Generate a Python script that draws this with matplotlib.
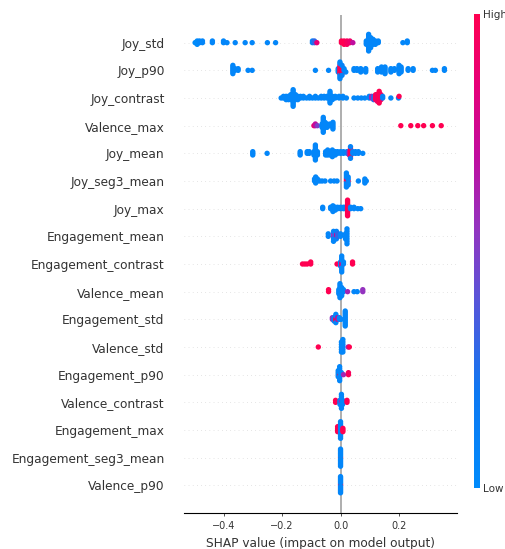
import numpy as np
import matplotlib
matplotlib.use('Agg')
import matplotlib.pyplot as plt
from matplotlib.colors import LinearSegmentedColormap
from matplotlib.cm import ScalarMappable

# feature names, most important first
features = ['Joy_std', 'Joy_p90', 'Joy_contrast', 'Valence_max', 'Joy_mean',
            'Joy_seg3_mean', 'Joy_max', 'Engagement_mean', 'Engagement_contrast',
            'Valence_mean', 'Engagement_std', 'Valence_std', 'Engagement_p90',
            'Valence_contrast', 'Engagement_max', 'Engagement_seg3_mean', 'Valence_p90']

# each entry: (shap value, number of samples, normalised feature value 0=low 1=high)
joy_std = [(-0.497, 1, 0.0), (-0.490, 3, 0.0), (-0.482, 2, 0.05), (-0.472, 2, 0.05),
           (-0.438, 2, 0.05), (-0.400, 2, 0.05), (-0.388, 1, 0.05), (-0.360, 1, 0.05),
           (-0.326, 1, 0.05), (-0.302, 1, 0.05), (-0.250, 1, 0.05), (-0.222, 1, 0.05),
           (-0.096, 2, 0.1), (-0.089, 2, 0.3), (-0.081, 1, 0.85), (0.003, 2, 1.0),
           (0.012, 3, 1.0), (0.022, 3, 0.95), (0.032, 2, 0.9), (0.042, 1, 0.7),
           (0.088, 3, 0.05), (0.096, 11, 0.05), (0.103, 7, 0.05), (0.111, 4, 0.05),
           (0.119, 3, 0.05), (0.129, 2, 0.05), (0.213, 1, 0.05), (0.228, 2, 0.05)]
joy_p90 = [(-0.368, 6, 0.05), (-0.361, 2, 0.05), (-0.350, 2, 0.05), (-0.316, 1, 0.05),
           (-0.302, 1, 0.05), (-0.086, 1, 0.05), (-0.041, 1, 0.05), (-0.008, 3, 0.05),
           (-0.002, 6, 1.0), (-0.002, 5, 0.05), (0.005, 5, 1.0), (0.005, 2, 0.1),
           (0.012, 2, 0.05), (0.018, 1, 0.05), (0.046, 2, 0.05), (0.056, 2, 0.05),
           (0.069, 3, 0.05), (0.086, 3, 0.05), (0.127, 3, 0.05), (0.140, 4, 0.05),
           (0.152, 5, 0.05), (0.172, 3, 0.05), (0.184, 2, 0.05), (0.200, 6, 0.05),
           (0.207, 4, 0.05), (0.231, 2, 0.05), (0.248, 2, 0.05), (0.314, 1, 0.05),
           (0.324, 1, 0.05), (0.355, 2, 0.05)]
joy_contrast = [(-0.203, 1, 0.05), (-0.195, 2, 0.05), (-0.186, 3, 0.05), (-0.178, 3, 0.05),
                (-0.170, 4, 0.05), (-0.162, 11, 0.05), (-0.154, 4, 0.05), (-0.146, 3, 0.05),
                (-0.137, 2, 0.05), (-0.127, 2, 0.05), (-0.116, 1, 0.05), (-0.106, 2, 0.05),
                (-0.096, 1, 0.05), (-0.086, 2, 0.05), (-0.076, 1, 0.05), (-0.066, 2, 0.05),
                (-0.056, 2, 0.05), (-0.046, 2, 0.05), (-0.036, 8, 0.05), (-0.028, 3, 0.05),
                (-0.018, 2, 0.05), (-0.005, 2, 0.05), (0.008, 2, 0.05), (0.020, 1, 0.05),
                (0.046, 1, 0.05), (0.059, 1, 0.05), (0.071, 1, 0.05), (0.083, 1, 0.05),
                (0.098, 2, 0.05), (0.106, 2, 0.6), (0.113, 3, 0.3), (0.120, 4, 1.0),
                (0.126, 5, 0.9), (0.132, 8, 1.0), (0.138, 4, 0.95), (0.144, 2, 0.1),
                (0.172, 1, 0.05), (0.198, 1, 0.05), (0.200, 1, 1.0)]
valence_max = [(-0.091, 1, 0.9), (-0.086, 2, 0.7), (-0.079, 1, 0.5), (-0.063, 3, 0.05),
               (-0.059, 10, 0.05), (-0.053, 4, 0.05), (-0.046, 3, 0.05), (-0.036, 2, 0.05),
               (-0.026, 5, 0.05), (0.206, 1, 1.0), (0.240, 1, 1.0), (0.264, 1, 1.0),
               (0.284, 1, 1.0), (0.314, 1, 1.0), (0.344, 1, 1.0)]
joy_mean = [(-0.300, 3, 0.05), (-0.251, 1, 0.05), (-0.138, 3, 0.05), (-0.114, 2, 0.05),
            (-0.107, 2, 0.05), (-0.091, 3, 0.05), (-0.086, 10, 0.05), (-0.079, 3, 0.05),
            (-0.051, 3, 0.05), (-0.044, 4, 0.05), (-0.036, 3, 0.05), (-0.028, 5, 0.05),
            (-0.018, 3, 0.05), (-0.010, 2, 0.05), (0.000, 2, 0.05), (0.010, 2, 0.05),
            (0.022, 2, 0.1), (0.030, 3, 0.6), (0.034, 6, 1.0), (0.034, 2, 0.1),
            (0.042, 2, 0.05), (0.051, 2, 0.05), (0.061, 2, 0.05), (0.076, 1, 0.05)]
joy_seg3_mean = [(-0.089, 2, 0.05), (-0.085, 4, 0.05), (-0.079, 2, 0.05), (-0.071, 1, 0.05),
                 (-0.063, 1, 0.05), (-0.053, 1, 0.05), (-0.034, 1, 0.05), (-0.022, 1, 0.05),
                 (-0.012, 1, 0.05), (0.020, 2, 1.0), (0.020, 6, 0.05), (0.026, 1, 1.0),
                 (0.026, 4, 0.05), (0.061, 1, 0.05), (0.083, 3, 0.05), (0.088, 1, 0.05)]
joy_max = [(-0.061, 2, 0.05), (-0.034, 2, 0.05), (-0.026, 5, 0.05), (-0.018, 3, 0.05),
           (-0.010, 2, 0.05), (0.000, 2, 0.05), (0.010, 2, 0.05), (0.017, 2, 0.05),
           (0.024, 12, 1.0), (0.034, 2, 0.05), (0.046, 2, 0.05), (0.059, 1, 0.05),
           (0.069, 1, 0.05)]
engagement_mean = [(-0.042, 2, 0.05), (-0.024, 2, 0.55), (-0.024, 3, 0.05), (-0.018, 3, 0.05),
                   (-0.014, 2, 0.75), (-0.014, 2, 0.1), (-0.010, 2, 0.3), (0.000, 2, 0.05),
                   (0.017, 3, 0.05), (0.022, 7, 0.05)]
engagement_contrast = [(-0.130, 1, 1.0), (-0.122, 1, 1.0), (-0.114, 1, 1.0), (-0.102, 2, 1.0),
                       (-0.012, 1, 1.0), (0.000, 3, 0.05), (0.004, 3, 0.8), (0.004, 6, 0.05),
                       (0.010, 2, 0.05), (0.041, 2, 1.0)]
valence_mean = [(-0.041, 2, 1.0), (-0.006, 3, 0.05), (-0.002, 8, 0.05), (0.004, 5, 0.05),
                (0.010, 2, 0.05), (0.024, 1, 0.6), (0.046, 1, 0.05), (0.057, 1, 0.05),
                (0.076, 2, 0.55)]
engagement_std = [(-0.028, 2, 0.55), (-0.022, 3, 0.05), (-0.016, 3, 1.0), (-0.016, 3, 0.05),
                  (-0.010, 2, 0.7), (-0.004, 2, 0.05), (0.002, 1, 0.05), (0.016, 10, 0.05)]
valence_std = [(-0.076, 1, 1.0), (0.003, 5, 0.05), (0.008, 6, 0.05), (0.026, 1, 0.6),
               (0.030, 1, 1.0)]
engagement_p90 = [(-0.008, 4, 0.05), (-0.003, 1, 1.0), (-0.003, 7, 0.05), (0.003, 2, 0.05),
                  (0.010, 1, 0.6), (0.027, 1, 1.0), (0.027, 1, 0.95)]
valence_contrast = [(-0.017, 2, 1.0), (-0.002, 3, 0.05), (0.003, 2, 0.6), (0.003, 6, 0.05),
                    (0.007, 3, 0.05), (0.022, 2, 1.0)]
engagement_max = [(-0.010, 4, 1.0), (0.000, 11, 0.05), (0.008, 3, 1.0)]
engagement_seg3_mean = [(0.000, 1, 1.0), (0.000, 12, 0.05)]
valence_p90 = [(0.000, 1, 0.6), (0.000, 1, 1.0), (0.000, 12, 0.05)]

rows = [joy_std, joy_p90, joy_contrast, valence_max, joy_mean, joy_seg3_mean, joy_max,
        engagement_mean, engagement_contrast, valence_mean, engagement_std, valence_std,
        engagement_p90, valence_contrast, engagement_max, engagement_seg3_mean, valence_p90]

# shap-like red/blue colormap
red_blue = LinearSegmentedColormap.from_list('red_blue', [
    (0.0, (0.0, 0.545, 0.984)),
    (0.2, (0.05, 0.47, 0.95)),
    (0.4, (0.35, 0.33, 0.85)),
    (0.55, (0.58, 0.2, 0.75)),
    (0.7, (0.75, 0.05, 0.62)),
    (0.85, (0.9, 0.0, 0.47)),
    (1.0, (1.0, 0.0, 0.318)),
])


def beeswarm(shaps, nbins=100, row_height=0.4):
    # same layering idea as shap.summary_plot
    n = len(shaps)
    quant = np.round(nbins * (shaps - shaps.min()) / (shaps.max() - shaps.min() + 1e-8))
    inds = np.argsort(quant, kind='stable')
    ys = np.zeros(n)
    layer = 0
    last_bin = -1
    for ind in inds:
        if quant[ind] != last_bin:
            layer = 0
        ys[ind] = np.ceil(layer / 2) * ((layer % 2) * 2 - 1)
        layer += 1
        last_bin = quant[ind]
    ys *= 0.9 * (row_height / np.max(ys + 1))
    return ys


axis_color = '#333333'
fig = plt.figure(figsize=(5.06, 5.49), dpi=100)
ax = fig.add_axes([184 / 506, 36 / 549, 273 / 506, 498 / 549])

n_feat = len(features)
for i, row in enumerate(rows):
    pos = n_feat - 1 - i
    vals = np.array([r[0] for r in row])
    counts = np.array([r[1] for r in row])
    levels = np.array([r[2] for r in row])
    shaps = np.repeat(vals, counts)
    colors = np.repeat(levels, counts)
    ys = beeswarm(shaps)
    ax.axhline(pos, color='#cccccc', lw=0.5, dashes=(1, 5), zorder=-1)
    ax.scatter(shaps, pos + ys, c=colors, cmap=red_blue,
               vmin=0, vmax=1, s=15, linewidth=0, alpha=1, zorder=3)

ax.axvline(0, color='#999999', lw=1.1, zorder=-1)
ax.set_xlim(-0.535, 0.398)
ax.set_xticks([-0.4, -0.2, 0.0, 0.2])
ax.set_ylim(-1, n_feat)
ax.set_yticks(range(n_feat))
ax.set_yticklabels(features[::-1], fontsize=8.7)
ax.xaxis.set_ticks_position('bottom')
ax.yaxis.set_ticks_position('none')
for side in ['right', 'top', 'left']:
    ax.spines[side].set_visible(False)
ax.tick_params(color=axis_color, labelcolor=axis_color)
ax.tick_params('y', length=0, pad=14)
ax.tick_params('x', labelsize=7, length=2.5, width=0.6)
ax.set_xlabel('SHAP value (impact on model output)', fontsize=8.7, color=axis_color)

cax = fig.add_axes([474 / 506, 61 / 549, 6 / 506, 474 / 549])
sm = ScalarMappable(cmap=red_blue)
sm.set_array([0, 1])
cb = fig.colorbar(sm, cax=cax, ticks=[0, 1])
cb.set_ticklabels(['Low', 'High'])
cb.ax.tick_params(labelsize=7.5, length=0, pad=2, labelcolor=axis_color)
cb.outline.set_visible(False)

fig.savefig('out.png', dpi=100)
